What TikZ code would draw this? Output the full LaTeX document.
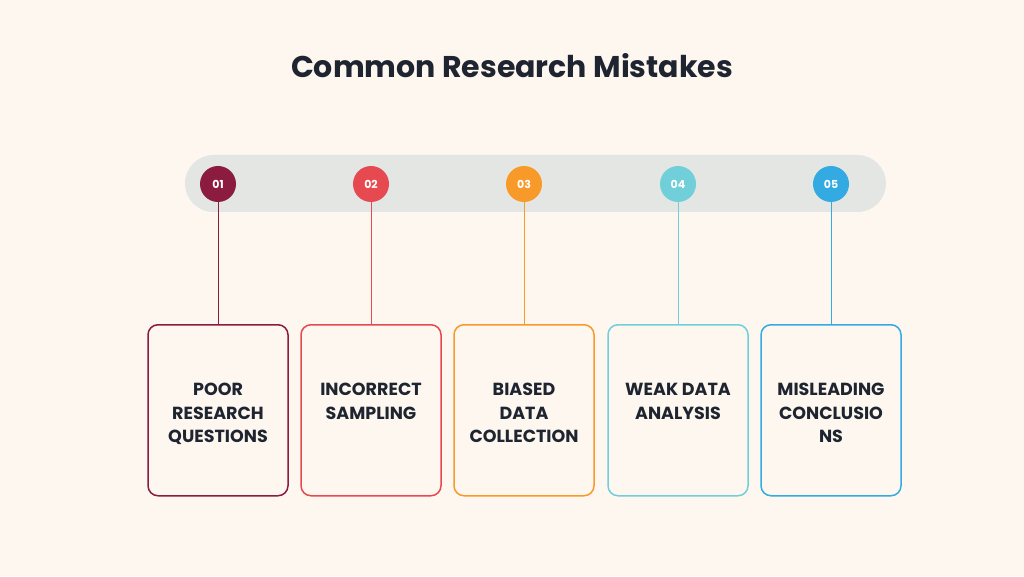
\documentclass[tikz,border=0pt]{standalone}
\usepackage{fontspec}
\setmainfont{Poppins}
\definecolor{bg}{HTML}{FDF7F0}
\definecolor{bar}{HTML}{E4E6E4}
\definecolor{txt}{HTML}{1E2530}
\definecolor{cA}{HTML}{8C1B40}
\definecolor{cB}{HTML}{E64A50}
\definecolor{cC}{HTML}{F89A2A}
\definecolor{cD}{HTML}{70CFD8}
\definecolor{cE}{HTML}{33ABE2}
\tikzset{
 dot/.style={circle,fill=#1,minimum size=36pt,inner sep=0pt,text=white,font=\fontsize{11}{12}\selectfont\bfseries},
 card/.style={draw=#1,line width=1.5pt,rounded corners=10pt,fill=bg,minimum width=140pt,minimum height=171pt},
 link/.style={draw=#1,line width=1pt}
}
\begin{document}
\begin{tikzpicture}[x=1pt,y=1pt]
\fill[bg] (0,0) rectangle (1024,576);
\useasboundingbox (0,0) rectangle (1024,576);
\node[text=txt,font=\fontsize{30}{34}\selectfont\bfseries] (title) at (512,510) {Common Research Mistakes};
\fill[bar,rounded corners=28.5pt] (185,364) rectangle (886,421);
\foreach \i/\x/\c/\t in {1/218/cA/{POOR\\RESEARCH\\QUESTIONS},2/371/cB/{INCORRECT\\SAMPLING},3/524/cC/{BIASED\\DATA\\COLLECTION},4/678/cD/{WEAK DATA\\ANALYSIS},5/831/cE/{MISLEADING\\CONCLUSIO\\NS}}{
 \node[dot=\c] (d\i) at (\x,392) {0\i};
 \node[card=\c,anchor=north] (b\i) at (\x,252) {};
 \node[text=txt,align=center,font=\fontsize{17.5}{23.5}\selectfont\bfseries,anchor=north] (t\i) at (\x,196) {\t};
 \draw[link=\c] (d\i.south) -- (b\i.north);
}
\end{tikzpicture}
\end{document}
